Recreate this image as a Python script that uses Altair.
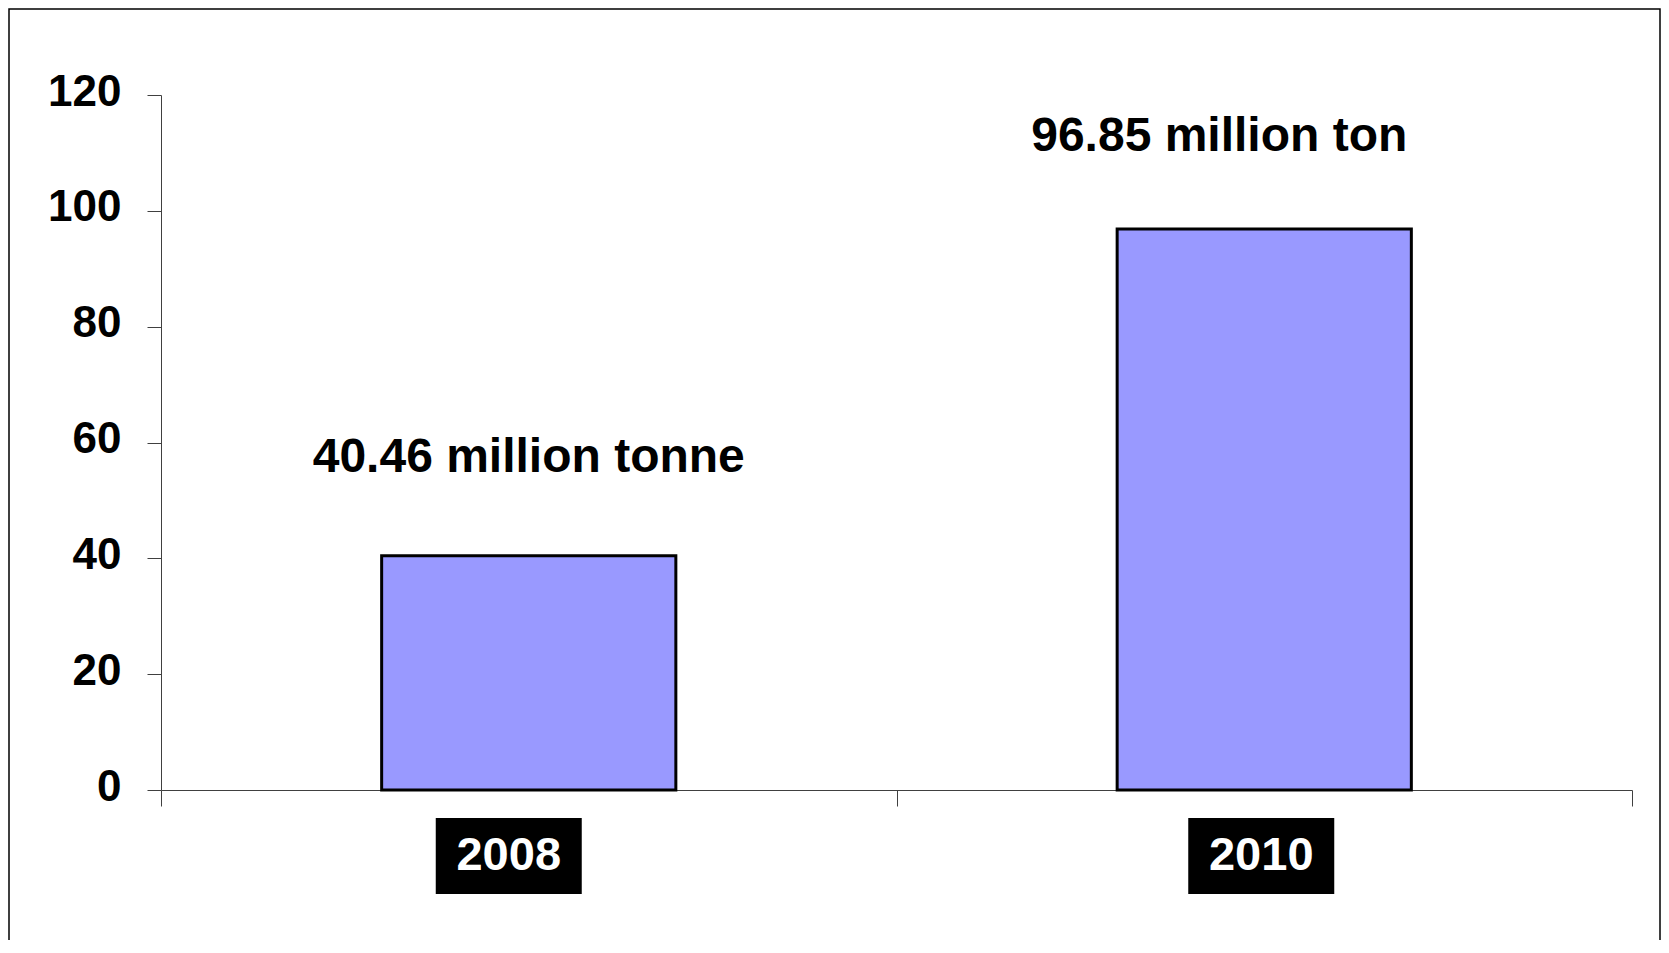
import altair as alt
import pandas as pd

years = ["2008", "2010"]
values = [40.46, 96.85]
annotations = ["40.46 million tonne", "96.85 million ton"]
y_ticks = [0, 20, 40, 60, 80, 100, 120]

df = pd.DataFrame({"year": years, "value": values, "note": annotations})

W, H = 1471, 695
FONT = "Liberation Sans"

x_enc = alt.X(
    "year:N",
    sort=years,
    scale=alt.Scale(paddingInner=0, paddingOuter=0),
    axis=alt.Axis(
        labels=False, title=None, tickBand="extent", tickSize=16,
        domainColor="#404040", tickColor="#404040", domainWidth=1, tickWidth=1,
    ),
)
y_enc = alt.Y(
    "value:Q",
    scale=alt.Scale(domain=[0, 120], nice=False),
    axis=alt.Axis(
        values=y_ticks, title=None, grid=False, labelFont=FONT, labelFontSize=44,
        labelFontWeight="bold", labelColor="black", tickSize=14, labelPadding=26,
        domainColor="#404040", tickColor="#404040", labelOffset=-3,
    ),
)

base = alt.Chart(df).encode(x=x_enc)

bars = base.mark_bar(
    width=alt.RelativeBandSize(0.4), fill="#9999FF", stroke="black", strokeWidth=3
).encode(y=y_enc)

def note(year, dx, dy):
    return base.transform_filter(alt.datum.year == year).mark_text(
        font=FONT, fontSize=48, fontWeight="bold", color="black",
        baseline="middle", align="center", dx=dx, dy=dy,
    ).encode(y=y_enc, text="note:N")

def box(year, off):
    return base.transform_filter(alt.datum.year == year).mark_bar(
        width=146, fill="black", xOffset=off
    ).encode(y=alt.value(H + 28), y2=alt.value(H + 104))

def ylabel(year, off):
    return base.transform_filter(alt.datum.year == year).mark_text(
        font=FONT, fontSize=47, fontWeight="bold", color="white",
        baseline="middle", align="center", dx=off,
    ).encode(y=alt.value(H + 66), text="year:N")

frame = alt.Chart(pd.DataFrame({"k": [0]})).mark_rect(
    fill="transparent", stroke="black", strokeWidth=1.5
).encode(
    x=alt.value(-152), x2=alt.value(W + 28), y=alt.value(-86), y2=alt.value(H + 250)
)

chart = alt.layer(
    frame, bars,
    note("2008", 0, -98), note("2010", -45, -92),
    box("2008", -20), box("2010", -3),
    ylabel("2008", -20), ylabel("2010", -3),
).properties(
    width=W, height=H,
    background="white",
    autosize=alt.AutoSizeParams(type="none"),
    padding={"left": 153, "top": 87, "right": 29, "bottom": 150},
).configure_view(strokeWidth=0, stroke="transparent")

chart.save("out.html", embed_options={"renderer": "svg", "actions": False})
